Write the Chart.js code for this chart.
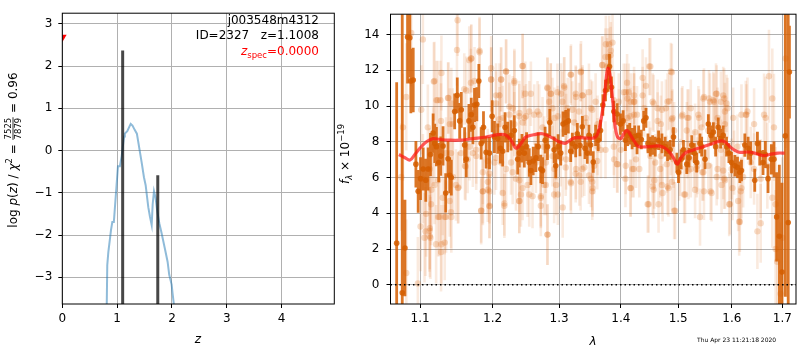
<!DOCTYPE html>
<html>
<head>
<meta charset="utf-8">
<script src="https://cdn.jsdelivr.net/npm/chart.js@4.4.0/dist/chart.umd.min.js"></script>
<style>
  html, body { margin: 0; padding: 0; background: #fff; }
  #wrap { position: relative; width: 800px; height: 350px; }
  .panel { position: absolute; left: 0; top: 0; width: 800px; height: 350px; }
</style>
</head>
<body>
<div id="wrap">
  <div class="panel"><canvas id="pzChart"></canvas></div>
  <div class="panel"><canvas id="specChart"></canvas></div>
</div>
<script>
// ---------------- left panel: redshift probability ----------------
const objName = "j003548m4312";
const objId = 2327;
const zBest = 1.1008;
const zSpec = 0.0;
const zSpecMarkY = 2.68;
const chi2Num = "7525";
const chi2Den = "7879";
const chi2Ratio = "0.96";

const zGrid = [0.81, 0.82, 0.839, 0.888, 0.912, 0.94, 0.99, 1.015, 1.05, 1.083,
  1.126, 1.14, 1.185, 1.247, 1.28, 1.32, 1.36, 1.447, 1.489, 1.52,
  1.568, 1.598, 1.63, 1.648, 1.672, 1.70, 1.73, 1.769, 1.81, 1.872,
  1.92, 1.95, 1.994, 2.012, 2.04];
const logPz = [-3.7, -2.71, -2.41, -1.88, -1.69, -1.69, -0.81, -0.37, -0.37, -0.13,
  0.33, 0.40, 0.46, 0.63, 0.59, 0.49, 0.40, -0.28, -0.63, -0.82,
  -1.34, -1.56, -1.76, -1.27, -0.96, -1.11, -1.42, -1.72, -1.95, -2.33,
  -2.63, -2.94, -3.17, -3.39, -3.7];

// peaks of the fit (vertical bars)
const peakZ = [1.1008, 1.741];
const peakTop = [2.37, -0.585];

const zTicks = [0, 1, 2, 3, 4];
const pzTicks = [-3, -2, -1, 0, 1, 2, 3];

// ---------------- right panel: spectrum ----------------
const lamTicks = [1.1, 1.2, 1.3, 1.4, 1.5, 1.6, 1.7];
const fluxTicks = [0, 2, 4, 6, 8, 10, 12, 14];

const darkWave = [
  1.0694, 1.0766, 1.0801, 1.0835, 1.0865, 1.0878, 1.0909, 1.0944, 1.0974, 1.1005,
  1.1040, 1.1075, 1.1106, 1.1137, 1.1173, 1.1195, 1.1217, 1.1249, 1.1276, 1.1307,
  1.1343, 1.1375, 1.1398, 1.1420, 1.1466, 1.1502, 1.1535, 1.1558, 1.1604, 1.1627,
  1.1664, 1.1697, 1.1720, 1.1743, 1.1776, 1.1804, 1.1837, 1.1870, 1.1908, 1.1956,
  1.1994, 1.2027, 1.2075, 1.2114, 1.2148, 1.2182, 1.2221, 1.2270, 1.2318, 1.2368,
  1.2392, 1.2432, 1.2467, 1.2501, 1.2541, 1.2566, 1.2601, 1.2642, 1.2677, 1.2717,
  1.2743, 1.2783, 1.2819, 1.2855, 1.2922, 1.2947, 1.2984, 1.3025, 1.3061, 1.3103,
  1.3145, 1.3182, 1.3208, 1.3261, 1.3287, 1.3330, 1.3367, 1.3410, 1.3447, 1.3474,
  1.3501, 1.3544, 1.3582, 1.3625, 1.3663, 1.3701, 1.3745, 1.3789, 1.3811, 1.3844,
  1.3883, 1.3938, 1.3994, 1.4039, 1.4078, 1.4117, 1.4151, 1.4191, 1.4236, 1.4276,
  1.4304, 1.4350, 1.4390, 1.4430, 1.4465, 1.4505, 1.4546, 1.4592, 1.4650, 1.4709,
  1.4767, 1.4809, 1.4856, 1.4915, 1.4975, 1.5005, 1.5053, 1.5095, 1.5155, 1.5197,
  1.5246, 1.5294, 1.5337, 1.5398, 1.5429, 1.5491, 1.5553, 1.5602, 1.5646, 1.5690,
  1.5740, 1.5784, 1.5834, 1.5897, 1.5942, 1.5993, 1.6057, 1.6108, 1.6153, 1.6185,
  1.6250, 1.6315, 1.6367, 1.6445, 1.6498, 1.6544, 1.6610, 1.6656, 1.6710, 1.6776,
  1.6830, 1.6884, 1.6938, 1.6992, 1.7060, 1.7120, 1.7145];
const darkFlux = [
  2.33, -0.45, 2.06, 13.86, 13.82, 11.40, 11.46, 6.75, 5.23, 5.94,
  6.48, 5.85, 6.48, 7.29, 8.49, 7.91, 7.73, 6.84, 7.20, 7.77,
  5.14, 7.05, 6.12, 6.00, 9.70, 10.60, 9.17, 9.79, 7.82, 7.02,
  9.17, 9.52, 8.81, 10.06, 10.10, 11.40, 7.91, 8.81, 7.41, 7.37,
  9.43, 8.27, 8.18, 7.64, 7.47, 8.81, 8.27, 8.36, 8.63, 7.02,
  7.37, 7.64, 7.37, 7.73, 6.84, 6.39, 6.93, 7.11, 7.73, 6.48,
  6.39, 8.09, 7.73, 9.08, 7.55, 6.66, 7.73, 7.37, 8.99, 9.08,
  9.17, 7.47, 7.91, 7.73, 8.45, 7.79, 8.84, 7.64, 7.37, 8.36,
  7.82, 6.87, 8.36, 8.09, 8.63, 10.06, 10.87, 11.40, 12.21, 11.05,
  9.70, 9.56, 8.99, 9.17, 8.09, 8.36, 8.45, 8.18, 8.31, 7.91,
  8.36, 8.13, 9.17, 9.34, 7.91, 7.73, 7.82, 7.73, 8.09, 7.91,
  7.73, 7.47, 7.55, 8.27, 6.84, 6.30, 7.02, 7.55, 6.75, 7.11,
  7.82, 7.37, 6.84, 7.91, 7.73, 7.02, 8.99, 8.36, 8.54, 7.73,
  8.81, 8.18, 8.36, 7.73, 7.37, 6.84, 6.66, 6.57, 6.30, 6.39,
  7.82, 7.64, 7.37, 5.85, 7.91, 7.37, 6.84, 7.29, 5.94, 7.02,
  7.02, 3.80, 2.72, 0.71, 8.33, 3.49, 11.90];
const darkErr = [
  9.0, 16.0, 2.7, 2.6, 2.2, 1.8, 1.8, 1.3, 1.2, 1.2,
  1.2, 1.2, 1.2, 1.2, 1.1, 1.1, 1.1, 1.1, 1.1, 1.1,
  1.1, 1.0, 1.0, 1.0, 1.0, 1.0, 1.0, 1.0, 1.0, 1.0,
  0.95, 0.95, 0.95, 0.95, 0.95, 0.95, 0.9, 0.9, 0.9, 0.9,
  0.9, 0.9, 0.85, 0.85, 0.85, 0.85, 0.85, 0.85, 0.85, 0.85,
  0.8, 0.8, 0.8, 0.8, 0.8, 0.8, 0.8, 0.8, 0.8, 0.8,
  0.75, 0.75, 0.75, 0.75, 0.75, 0.7, 0.7, 0.7, 0.7, 0.7,
  0.7, 0.6, 0.6, 0.6, 0.6, 0.6, 0.6, 0.6, 0.6, 0.6,
  0.6, 0.6, 0.6, 0.6, 0.6, 0.6, 0.6, 0.6, 0.7, 0.6,
  0.6, 0.6, 0.6, 0.6, 0.6, 0.6, 0.6, 0.6, 0.6, 0.6,
  0.55, 0.55, 0.55, 0.55, 0.55, 0.55, 0.55, 0.55, 0.55, 0.55,
  0.55, 0.55, 0.55, 0.55, 0.55, 0.6, 0.55, 0.55, 0.55, 0.55,
  0.55, 0.55, 0.55, 0.55, 0.55, 0.55, 0.55, 0.55, 0.55, 0.55,
  0.55, 0.55, 0.55, 0.55, 0.55, 0.6, 0.6, 0.6, 0.6, 0.6,
  0.65, 0.65, 0.65, 0.65, 0.65, 0.7, 0.7, 0.75, 0.8, 0.85,
  1.0, 2.5, 4.0, 5.0, 9.0, 14.0, 2.6];

const lightWave = [
  1.1036, 1.0818, 1.0775, 1.0753, 1.1014, 1.1036, 1.1005, 1.1071, 1.1124, 1.1137,
  1.1058, 1.1191, 1.1235, 1.1271, 1.1380, 1.1348, 1.1416, 1.1507, 1.1498, 1.1553,
  1.1516, 1.1599, 1.1258, 1.1348, 1.1416, 1.1280, 1.1213, 1.1080, 1.1146, 1.1191,
  1.1303, 1.1102, 1.1280, 1.1438, 1.1484, 1.1646, 1.1669, 1.1692, 1.1608, 1.0818,
  1.0970, 1.0883,
  1.1696, 1.1814, 1.1743, 1.1980, 1.2124, 1.2197, 1.2319, 1.2442, 1.2482, 1.2566,
  1.2819, 1.2870, 1.1720, 1.1767, 1.1861, 1.1837, 1.1932, 1.1956, 1.2148, 1.2172,
  1.2392, 1.2417, 1.2541, 1.2591, 1.2717, 1.2768, 1.2819, 1.1956, 1.2027, 1.2270,
  1.2343, 1.2642, 1.2794, 1.2245, 1.2392, 1.2467, 1.2617, 1.2667, 1.2100, 1.2148,
  1.2294, 1.2541, 1.2051, 1.2845, 1.2896,
  1.3030, 1.3082, 1.3187, 1.3346, 1.3266, 1.3372, 1.2927, 1.2979, 1.3109, 1.3135,
  1.3506, 1.3614, 1.3696, 1.3751, 1.3806, 1.3833, 1.3861, 1.3789, 1.3669, 1.3888,
  1.3944, 1.4083, 1.4112, 1.4168, 1.4225, 1.2927, 1.2953, 1.2979, 1.3056, 1.3109,
  1.3187, 1.3266, 1.3319, 1.3399, 1.3506, 1.3533, 1.3560, 1.3614, 1.4168, 1.4196,
  1.4083, 1.3999, 1.2953, 1.3426, 1.3240, 1.4112, 1.4225,
  1.4372, 1.4430, 1.4488, 1.4372, 1.4401, 1.4546, 1.4633, 1.4691, 1.4809, 1.4868,
  1.4897, 1.5077, 1.5167, 1.5228, 1.5380, 1.5472, 1.5565, 1.5658, 1.4258, 1.4315,
  1.4459, 1.4546, 1.4575, 1.4721, 1.4809, 1.4927, 1.5016, 1.5107, 1.5228, 1.5288,
  1.5350, 1.5441, 1.5472, 1.5596, 1.4691, 1.4488, 1.5167, 1.4868, 1.4230, 1.4779,
  1.4927, 1.4633,
  1.5696, 1.5790, 1.5853, 1.5916, 1.5727, 1.5790, 1.5727, 1.5948, 1.6011, 1.6140,
  1.6172, 1.6269, 1.6302, 1.6367, 1.6432, 1.6498, 1.6563, 1.6630, 1.6662, 1.6729,
  1.6796, 1.6829, 1.6863, 1.6863, 1.6896, 1.6998, 1.6796, 1.6696, 1.6563, 1.6043,
  1.6107, 1.5853, 1.6432, 1.7066, 1.6964,
  1.1285, 1.1182, 1.1217, 1.1375, 1.1420, 1.1398, 1.1627, 1.1697, 1.1814, 1.1980,
  1.1980, 1.2124, 1.2197, 1.2319, 1.2442, 1.2051, 1.2100, 1.2245, 1.2393, 1.2442,
  1.2319, 1.2492, 1.2100, 1.1128, 1.1150, 1.1240, 1.1443, 1.1512, 1.1618, 1.1861,
  1.1932, 1.2051, 1.2124, 1.2197, 1.2294, 1.2393, 1.2442, 1.2516, 1.1861, 1.1956,
  1.1837, 1.1956, 1.2172, 1.2393, 1.1240, 1.1330, 1.1420, 1.1128, 1.1128, 1.1285,
  1.1330, 1.1932, 1.1398, 1.1673, 1.1767, 1.1173,
  1.2819, 1.2870, 1.2845, 1.2974, 1.3077, 1.3182, 1.3341, 1.3261, 1.3367, 1.3474,
  1.3051, 1.3103, 1.3208, 1.3314, 1.3421, 1.3528, 1.3582, 1.3690, 1.3745, 1.3828,
  1.3772, 1.3883, 1.3966, 1.4050, 1.4106, 1.4134, 1.4219, 1.3966, 1.4050, 1.4162,
  1.4276, 1.2743, 1.2692, 1.2768, 1.2896, 1.3025, 1.3103, 1.3182, 1.3261, 1.3341,
  1.3474, 1.3528, 1.3609, 1.3745, 1.3883, 1.3938, 1.4078, 1.4162, 1.4219, 1.2794,
  1.2717, 1.2717, 1.2819, 1.2922, 1.3528, 1.3367,
  1.4506, 1.4886, 1.4838, 1.4563, 1.4709, 1.4886, 1.5065, 1.5186, 1.5368, 1.5460,
  1.5584, 1.5709, 1.5646, 1.5834, 1.5897, 1.5866, 1.6024, 1.6185, 1.6282, 1.5155,
  1.5307, 1.5429, 1.5553, 1.5678, 1.5866, 1.4506, 1.4592, 1.4679, 1.4797, 1.4916,
  1.5035, 1.5186, 1.5337, 1.5460, 1.5553, 1.5709, 1.5834, 1.5993, 1.6217, 1.4563,
  1.4709, 1.4826, 1.4886, 1.5125, 1.5307, 1.5614, 1.5802, 1.5866, 1.6185, 1.6120,
  1.6153, 1.5961, 1.4945, 1.4650, 1.5398, 1.4476];
const lightFlux = [
  13.73, 10.51, 8.81, 6.03, 9.79, 5.94, 3.26, 2.99, 3.03, 2.63,
  2.63, 11.40, 10.33, 10.33, 10.45, 7.37, 7.37, 14.80, 13.14, 7.37,
  5.44, 10.95, 3.80, 3.80, 4.06, 1.83, 2.27, 3.97, 4.51, 5.59,
  4.87, 8.81, 9.17, 8.99, 5.59, 7.02, 12.57, 11.31, 6.66, 0.66,
  0.07, 14.09,
  12.66, 13.10, 11.40, 11.49, 11.49, 11.94, 11.40, 12.24, 10.69, 10.69,
  10.99, 10.69, 7.37, 7.20, 5.23, 4.15, 5.32, 4.42, 5.14, 4.42,
  4.69, 5.05, 5.05, 4.96, 4.87, 5.59, 2.81, 6.21, 6.84, 6.84,
  5.94, 6.84, 6.84, 9.52, 9.43, 9.34, 9.52, 9.70, 8.99, 9.34,
  9.88, 9.70, 10.60, 9.17, 9.88,
  10.69, 11.04, 11.76, 11.94, 10.51, 10.60, 9.34, 9.43, 8.99, 9.88,
  9.88, 8.99, 12.30, 13.46, 13.46, 13.10, 13.55, 12.75, 7.55, 7.02,
  6.75, 10.78, 10.42, 10.24, 10.60, 6.48, 5.59, 5.05, 4.33, 7.02,
  5.68, 6.48, 6.12, 6.57, 5.94, 5.41, 6.66, 7.73, 5.41, 6.48,
  6.66, 7.55, 7.55, 9.08, 9.08, 9.34, 9.52,
  11.58, 11.13, 12.21, 10.60, 9.88, 10.24, 9.88, 8.99, 10.24, 11.94,
  9.34, 9.52, 9.34, 9.88, 9.34, 10.51, 10.42, 10.24, 7.02, 6.48,
  4.51, 5.50, 5.85, 5.14, 5.50, 4.15, 6.30, 5.05, 6.48, 7.02,
  6.66, 6.30, 5.23, 5.23, 7.20, 7.55, 7.55, 7.73, 10.24, 9.88,
  8.63, 9.17,
  10.69, 10.24, 10.42, 9.88, 9.34, 7.55, 6.48, 4.51, 5.41, 3.53,
  5.23, 9.52, 9.70, 6.84, 6.48, 2.99, 3.44, 9.52, 9.34, 11.67,
  10.42, 8.81, 4.51, 2.00, 1.29, 2.63, 4.87, 6.66, 5.94, 6.84,
  7.73, 5.94, 8.99, 12.66, -0.50,
  11.85, 11.37, 10.33, 10.45, 10.15, 8.99, 10.87, 12.66, 13.01, 12.12,
  11.49, 11.49, 11.94, 11.31, 12.24, 10.15, 10.60, 9.97, 9.61, 9.08,
  8.99, 9.43, 9.26, 6.48, 5.32, 5.85, 6.03, 5.41, 6.62, 6.30,
  6.93, 7.10, 6.84, 6.48, 6.30, 5.85, 5.41, 5.59, 5.23, 5.23,
  4.15, 4.39, 4.55, 4.69, 3.79, 3.79, 3.79, 3.17, 2.72, 2.27,
  2.36, 5.76, 4.69, 7.73, 7.55, 7.73,
  11.04, 10.69, 10.24, 10.78, 11.13, 11.76, 11.89, 10.69, 10.60, 10.78,
  10.24, 9.52, 9.79, 9.70, 9.34, 9.79, 10.24, 12.30, 12.75, 12.84,
  12.21, 10.33, 10.24, 10.78, 11.31, 10.78, 10.24, 9.34, 9.08, 9.43,
  9.52, 8.81, 9.52, 7.73, 7.20, 7.10, 6.57, 5.76, 6.21, 5.76,
  6.12, 5.76, 6.93, 7.55, 7.73, 6.75, 5.94, 5.41, 6.48, 5.59,
  4.96, 4.42, 2.81, 5.05, 5.23, 6.48,
  12.21, 11.89, 10.27, 10.15, 9.79, 9.26, 9.43, 9.34, 9.52, 10.42,
  10.24, 10.69, 10.33, 10.60, 10.15, 9.70, 9.34, 9.52, 9.52, 8.63,
  8.54, 8.81, 8.63, 8.90, 8.99, 7.20, 6.84, 6.48, 6.75, 7.02,
  6.57, 6.39, 6.48, 6.30, 6.66, 6.03, 6.39, 6.48, 6.03, 5.32,
  5.59, 5.41, 5.76, 5.05, 5.32, 5.14, 5.59, 5.85, 5.41, 4.69,
  3.53, 4.51, 4.15, 4.51, 3.79, 4.51];
const lightErr = [
  2.5, 3.0, 3.0, 3.0, 2.5, 2.5, 2.5, 2.5, 2.3, 2.3,
  2.5, 2.2, 2.2, 2.2, 2.0, 2.0, 2.0, 2.0, 2.0, 2.0,
  2.0, 2.0, 2.2, 2.0, 2.0, 2.2, 2.2, 2.4, 2.3, 2.2,
  2.1, 2.4, 2.1, 2.0, 2.0, 1.9, 1.9, 1.9, 1.9, 3.0,
  2.6, 3.0,
  1.9, 1.9, 1.9, 1.8, 1.8, 1.8, 1.8, 1.8, 1.8, 1.8,
  1.7, 1.7, 1.9, 1.9, 1.9, 1.9, 1.8, 1.8, 1.8, 1.8,
  1.8, 1.8, 1.8, 1.8, 1.7, 1.7, 1.7, 1.8, 1.8, 1.8,
  1.8, 1.7, 1.7, 1.8, 1.8, 1.8, 1.7, 1.7, 1.8, 1.8,
  1.8, 1.7, 1.8, 1.7, 1.7,
  1.7, 1.7, 1.7, 1.7, 1.7, 1.7, 1.7, 1.7, 1.7, 1.7,
  1.6, 1.6, 1.6, 1.6, 1.6, 1.6, 1.6, 1.6, 1.6, 1.6,
  1.6, 1.6, 1.6, 1.6, 1.6, 1.7, 1.7, 1.7, 1.7, 1.7,
  1.7, 1.7, 1.7, 1.6, 1.6, 1.6, 1.6, 1.6, 1.6, 1.6,
  1.6, 1.6, 1.7, 1.6, 1.7, 1.6, 1.6,
  1.6, 1.6, 1.6, 1.6, 1.6, 1.6, 1.6, 1.6, 1.6, 1.6,
  1.6, 1.6, 1.6, 1.6, 1.6, 1.6, 1.6, 1.6, 1.6, 1.6,
  1.6, 1.6, 1.6, 1.6, 1.6, 1.6, 1.6, 1.6, 1.6, 1.6,
  1.6, 1.6, 1.6, 1.6, 1.6, 1.6, 1.6, 1.6, 1.6, 1.6,
  1.6, 1.6,
  1.7, 1.7, 1.7, 1.7, 1.7, 1.7, 1.7, 1.8, 1.8, 1.9,
  1.9, 1.9, 1.9, 2.0, 2.0, 2.1, 2.2, 2.3, 2.3, 2.6,
  2.8, 3.0, 3.2, 3.3, 3.5, 4.5, 2.8, 2.4, 2.2, 1.8,
  1.8, 1.7, 2.0, 5.0, 4.0,
  2.1, 2.2, 2.2, 2.0, 2.0, 2.0, 1.9, 1.9, 1.9, 1.8,
  1.8, 1.8, 1.8, 1.8, 1.8, 1.8, 1.8, 1.8, 1.8, 1.8,
  1.8, 1.8, 1.8, 2.3, 2.3, 2.2, 2.0, 2.0, 1.9, 1.8,
  1.8, 1.8, 1.8, 1.8, 1.8, 1.8, 1.8, 1.8, 1.8, 1.8,
  1.8, 1.8, 1.8, 1.8, 2.2, 2.1, 2.0, 2.3, 2.3, 2.2,
  2.1, 1.8, 2.0, 1.9, 1.9, 2.2,
  1.7, 1.7, 1.7, 1.6, 1.6, 1.6, 1.6, 1.6, 1.6, 1.6,
  1.7, 1.6, 1.6, 1.6, 1.6, 1.6, 1.6, 1.6, 1.6, 1.6,
  1.6, 1.6, 1.6, 1.6, 1.6, 1.6, 1.6, 1.6, 1.6, 1.6,
  1.6, 1.7, 1.7, 1.7, 1.7, 1.6, 1.6, 1.6, 1.6, 1.6,
  1.6, 1.6, 1.6, 1.6, 1.6, 1.6, 1.6, 1.6, 1.6, 1.7,
  1.7, 1.7, 1.7, 1.6, 1.6, 1.6,
  1.6, 1.6, 1.6, 1.6, 1.6, 1.6, 1.6, 1.6, 1.6, 1.6,
  1.6, 1.6, 1.6, 1.6, 1.6, 1.6, 1.7, 1.7, 1.7, 1.6,
  1.6, 1.6, 1.6, 1.6, 1.6, 1.6, 1.6, 1.6, 1.6, 1.6,
  1.6, 1.6, 1.6, 1.6, 1.6, 1.6, 1.6, 1.7, 1.7, 1.6,
  1.6, 1.6, 1.6, 1.6, 1.6, 1.6, 1.6, 1.6, 1.7, 1.7,
  1.7, 1.7, 1.6, 1.6, 1.6, 1.6];

// best-fit model
const modelWave = [
  1.0723, 1.0801, 1.0866, 1.0930, 1.0996, 1.1084, 1.1172, 1.1262, 1.1398, 1.1535,
  1.1719, 1.1909, 1.2052, 1.2182, 1.2270, 1.2344, 1.2417, 1.2492, 1.2642, 1.2742,
  1.2896, 1.2999, 1.3090, 1.3135, 1.3240, 1.3399, 1.3560, 1.3615, 1.3668, 1.3723,
  1.3767, 1.3789, 1.3822, 1.3862, 1.3900, 1.3945, 1.4000, 1.4067, 1.4112, 1.4168,
  1.4253, 1.4304, 1.4476, 1.4650, 1.4768, 1.4857, 1.4945, 1.4987, 1.5035, 1.5126,
  1.5246, 1.5429, 1.5614, 1.5771, 1.5866, 1.5961, 1.6057, 1.6153, 1.6314, 1.6445,
  1.6609, 1.6743, 1.6910, 1.7046];
const modelFlux = [
  7.29, 7.11, 6.98, 7.29, 7.64, 8.00, 8.18, 8.13, 8.09, 8.09,
  8.18, 8.27, 8.39, 8.39, 8.09, 7.64, 7.91, 8.27, 8.42, 8.45,
  8.22, 8.00, 7.91, 8.00, 8.22, 8.22, 8.22, 8.45, 9.17, 10.42,
  11.85, 12.12, 11.67, 10.42, 8.98, 8.27, 8.18, 8.54, 8.63, 8.36,
  7.91, 7.73, 7.73, 7.77, 7.64, 7.37, 6.93, 6.75, 7.02, 7.37,
  7.52, 7.70, 7.88, 8.04, 8.00, 7.73, 7.52, 7.41, 7.43, 7.37,
  7.23, 7.29, 7.37, 7.37];

const lamMin = 1.0615;
const lamMax = 1.7281;

// --------------------------------------------------
// helpers
// --------------------------------------------------
const FAM = "'DejaVu Sans', sans-serif";
const F12 = "12px " + FAM;
const I12 = "italic 12px " + FAM;
const F8 = "8.5px " + FAM;
const I8 = "italic 8.5px " + FAM;

Chart.defaults.font.family = FAM;
Chart.defaults.font.size = 12;
Chart.defaults.color = "#000";

const minus = (v) => String(v).replace("-", "\u2212");

// vertical error bars as one broken line: lo, hi, gap
function errSegments(xs, ys, es) {
  const pts = [];
  xs.forEach((x, i) => {
    pts.push({ x, y: ys[i] - es[i] }, { x, y: ys[i] + es[i] }, { x, y: null });
  });
  return pts;
}

function toPoints(xs, ys) {
  return xs.map((x, i) => ({ x, y: ys[i] }));
}

// draw a row of text pieces (different fonts / offsets)
function drawRuns(ctx, runs, x, y, align) {
  let total = 0;
  runs.forEach((r) => {
    ctx.font = r.font;
    if (r.frac) {
      r.w = Math.max(ctx.measureText(r.frac[0]).width, ctx.measureText(r.frac[1]).width) + 2;
    } else {
      r.w = ctx.measureText(r.text).width;
    }
    total += r.w;
  });
  let cx = align === "right" ? x - total : align === "center" ? x - total / 2 : x;
  runs.forEach((r) => {
    ctx.font = r.font;
    ctx.fillStyle = r.color || "#000";
    if (r.frac) {
      ctx.textAlign = "center";
      ctx.fillText(r.frac[0], cx + r.w / 2, y - 6.5);
      ctx.fillText(r.frac[1], cx + r.w / 2, y + 3.5);
      ctx.fillRect(cx + 0.5, y - 4.4, r.w - 1, 0.8);
      ctx.textAlign = "left";
    } else {
      ctx.textAlign = "left";
      ctx.fillText(r.text, cx, y + (r.dy || 0));
    }
    cx += r.w;
  });
}

const frameBox = {
  id: "frameBox",
  afterDatasetsDraw(chart) {
    const { ctx, chartArea: a } = chart;
    ctx.save();
    ctx.strokeStyle = "#000";
    ctx.lineWidth = 1;
    ctx.strokeRect(a.left, a.top, a.right - a.left, a.bottom - a.top);
    ctx.restore();
  },
};

function axisGrid() {
  return { color: "#b0b0b0", lineWidth: 1, tickColor: "#000", tickLength: 4, drawTicks: true };
}

// --------------------------------------------------
// left chart
// --------------------------------------------------
const pzLabels = {
  id: "pzLabels",
  afterDraw(chart) {
    const ctx = chart.ctx;
    ctx.save();
    ctx.textBaseline = "alphabetic";
    drawRuns(ctx, [{ text: objName, font: F12 }], 319, 24, "right");
    drawRuns(ctx, [{ text: "ID=" + objId + "   z=" + zBest.toFixed(4), font: F12 }], 319, 38.5, "right");
    drawRuns(ctx, [
      { text: "z", font: I12, color: "red" },
      { text: "spec", font: F8, dy: 3, color: "red" },
      { text: "=" + zSpec.toFixed(4), font: F12, color: "red" },
    ], 319, 55, "right");
    drawRuns(ctx, [{ text: "z", font: I12 }], 198, 343, "center");

    ctx.translate(17, 150);
    ctx.rotate(-Math.PI / 2);
    drawRuns(ctx, [
      { text: "log ", font: F12 },
      { text: "p", font: I12 },
      { text: "(", font: F12 },
      { text: "z", font: I12 },
      { text: ") / ", font: F12 },
      { text: "\u03c7", font: I12 },
      { text: "2", font: F8, dy: -5 },
      { text: " = ", font: F12 },
      { frac: [chi2Num, chi2Den], font: F8 },
      { text: " = " + chi2Ratio, font: F12 },
    ], 0, 0, "center");
    ctx.restore();
  },
};

const peakSegs = [];
peakZ.forEach((z, i) => {
  peakSegs.push({ x: z, y: -10 }, { x: z, y: peakTop[i] }, { x: z, y: null });
});

new Chart(document.getElementById("pzChart"), {
  type: "scatter",
  data: {
    datasets: [
      {
        data: [{ x: zSpec, y: zSpecMarkY }],
        pointStyle: "triangle",
        rotation: 180,
        pointRadius: 5,
        backgroundColor: "red",
        borderColor: "red",
        borderWidth: 0,
        clip: 0,
      },
      {
        type: "line",
        data: peakSegs,
        borderColor: "rgba(0,0,0,0.72)",
        borderWidth: 3,
        pointRadius: 0,
        spanGaps: false,
        clip: 0,
      },
      {
        type: "line",
        data: toPoints(zGrid, logPz),
        borderColor: "rgba(31,119,180,0.5)",
        borderWidth: 2,
        pointRadius: 0,
        tension: 0,
        clip: 0,
      },
    ],
  },
  options: {
    responsive: true,
    maintainAspectRatio: false,
    animation: false,
    events: [],
    layout: { padding: { left: 0, right: 465.7, top: 1.7, bottom: 0 } },
    plugins: { legend: { display: false }, tooltip: { enabled: false } },
    scales: {
      x: {
        type: "linear",
        min: 0,
        max: 4.96,
        afterBuildTicks: (s) => { s.ticks = zTicks.map((v) => ({ value: v })); },
        afterFit: (s) => { s.height = 46; },
        grid: axisGrid(),
        border: { display: false },
        ticks: { padding: 4, maxRotation: 0, callback: (v) => minus(v) },
      },
      y: {
        type: "linear",
        min: -3.63,
        max: 3.25,
        afterBuildTicks: (s) => { s.ticks = pzTicks.map((v) => ({ value: v })); },
        afterFit: (s) => { s.width = 62.3; },
        grid: axisGrid(),
        border: { display: false },
        ticks: { padding: 6, callback: (v) => minus(v) },
      },
    },
  },
  plugins: [frameBox, pzLabels],
});

// --------------------------------------------------
// right chart
// --------------------------------------------------
const specLabels = {
  id: "specLabels",
  afterDraw(chart) {
    const ctx = chart.ctx;
    ctx.save();
    ctx.textBaseline = "alphabetic";
    drawRuns(ctx, [{ text: "\u03bb", font: I12 }], 593, 345, "center");
    ctx.font = "6px " + FAM;
    ctx.fillStyle = "#000";
    ctx.textAlign = "left";
    ctx.fillText("Thu Apr 23 11:21:18 2020", 697, 342);

    ctx.translate(349, 154);
    ctx.rotate(-Math.PI / 2);
    drawRuns(ctx, [
      { text: "f", font: I12 },
      { text: "\u03bb", font: I8, dy: 3 },
      { text: " \u00d7 10", font: F12 },
      { text: "\u221219", font: F8, dy: -5 },
    ], 0, 0, "center");
    ctx.restore();
  },
};

const darkColor = "rgba(213,94,0,0.85)";
const lightBarColor = "rgba(217,95,2,0.13)";
const lightDotColor = "rgba(217,95,2,0.22)";

new Chart(document.getElementById("specChart"), {
  type: "scatter",
  data: {
    datasets: [
      {
        type: "line",
        data: [{ x: lamMin, y: 0 }, { x: lamMax, y: 0 }],
        borderColor: "#000",
        borderWidth: 1.5,
        borderDash: [1.5, 3],
        pointRadius: 0,
        clip: 0,
      },
      {
        type: "line",
        data: toPoints(modelWave, modelFlux),
        borderColor: "rgba(255,20,20,0.7)",
        borderWidth: 3.2,
        pointRadius: 0,
        tension: 0.35,
        clip: 0,
      },
      {
        data: toPoints(darkWave, darkFlux),
        pointRadius: 2.8,
        backgroundColor: darkColor,
        borderWidth: 0,
        clip: 0,
      },
      {
        type: "line",
        data: errSegments(darkWave, darkFlux, darkErr),
        borderColor: darkColor,
        borderWidth: 2.8,
        pointRadius: 0,
        spanGaps: false,
        clip: 0,
      },
      {
        data: toPoints(lightWave, lightFlux),
        pointRadius: 3.2,
        backgroundColor: lightDotColor,
        borderWidth: 0,
        clip: 0,
      },
      {
        type: "line",
        data: errSegments(lightWave, lightFlux, lightErr),
        borderColor: lightBarColor,
        borderWidth: 2.6,
        pointRadius: 0,
        spanGaps: false,
        segment: { borderColor: lightBarColor, borderWidth: 2.6 },
        clip: 0,
      },
    ],
  },
  options: {
    responsive: true,
    maintainAspectRatio: false,
    animation: false,
    events: [],
    layout: { padding: { left: 350, right: 2, top: 2, bottom: 0 } },
    plugins: { legend: { display: false }, tooltip: { enabled: false } },
    scales: {
      x: {
        type: "logarithmic",
        min: lamMin,
        max: lamMax,
        afterBuildTicks: (s) => { s.ticks = lamTicks.map((v) => ({ value: v })); },
        afterFit: (s) => { s.height = 46; },
        grid: axisGrid(),
        border: { display: false },
        ticks: { padding: 4, maxRotation: 0, autoSkip: false, callback: (v) => Number(v).toFixed(1) },
      },
      y: {
        type: "linear",
        min: -1.074,
        max: 15.14,
        afterBuildTicks: (s) => { s.ticks = fluxTicks.map((v) => ({ value: v })); },
        afterFit: (s) => { s.width = 40.5; },
        grid: axisGrid(),
        border: { display: false },
        ticks: { padding: 7, callback: (v) => minus(v) },
      },
    },
  },
  plugins: [frameBox, specLabels],
});
</script>
</body>
</html>
